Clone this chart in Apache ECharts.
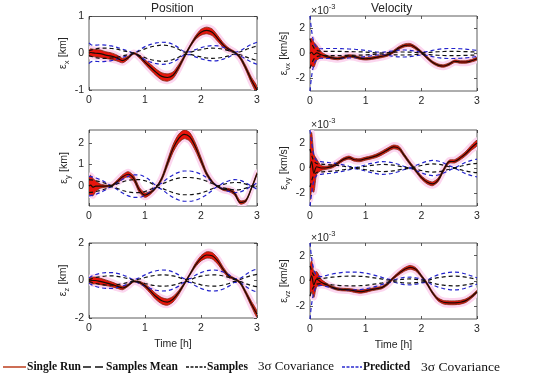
<!DOCTYPE html>
<html>
<head>
<meta charset="utf-8">
<script src="https://cdn.jsdelivr.net/npm/echarts@6/dist/echarts.min.js"></script>
<style>html,body{margin:0;padding:0;background:#fff}#c{width:550px;height:380px}</style>
</head>
<body>
<div id="c"></div>
<script>
// time samples [h]
const T = [0,0.03,0.07,0.12,0.2,0.3,0.4,0.5,0.6,0.7,0.8,0.9,1.0,1.1,1.2,1.3,1.4,1.5,1.6,1.7,1.8,1.9,2.0,2.1,2.2,2.3,2.4,2.5,2.6,2.7,2.8,2.9,3.0];
const xTicks = [0,1,2,3];

// ---- Position x [km]
const posXMean   = [0,0.02,0.01,0,-0.01,-0.05,-0.08,-0.13,-0.2,-0.12,0,-0.09,-0.24,-0.38,-0.52,-0.63,-0.66,-0.6,-0.38,-0.1,0.18,0.42,0.57,0.62,0.57,0.4,0.22,0.1,0.03,-0.12,-0.4,-0.73,-1.0];
const posXSpread = [0.08,0.1,0.1,0.1,0.1,0.09,0.09,0.08,0.06,0.04,0.02,0.04,0.06,0.08,0.09,0.1,0.1,0.09,0.07,0.04,0.03,0.05,0.08,0.09,0.09,0.08,0.06,0.04,0.02,0.04,0.06,0.08,0.1];
const posXSampCov = [0.06,0.08,0.1,0.12,0.14,0.14,0.13,0.11,0.07,0.04,0.01,0.06,0.12,0.17,0.2,0.22,0.21,0.17,0.11,0.03,0.03,0.07,0.1,0.13,0.14,0.13,0.11,0.07,0.02,0.04,0.1,0.15,0.2];
const posXPredCov = [0.28,0.24,0.22,0.22,0.23,0.22,0.2,0.16,0.11,0.06,0.01,0.09,0.18,0.24,0.28,0.3,0.29,0.24,0.15,0.05,0.04,0.1,0.15,0.19,0.21,0.2,0.16,0.1,0.03,0.07,0.16,0.24,0.3];

// ---- Position y [km]
const posYMean   = [0,0.05,-0.05,0,0,0,0.02,0.2,0.43,0.55,0.35,-0.18,-0.42,-0.3,-0.06,0.35,1.05,1.74,2.2,2.4,2.28,1.82,1.2,0.58,0.2,-0.03,-0.15,-0.18,-0.34,-0.75,-0.68,-0.1,0.58];
const posYSpread = [0.4,0.45,0.4,0.25,0.1,0.05,0.03,0.07,0.1,0.12,0.12,0.12,0.1,0.07,0.03,0.08,0.14,0.18,0.2,0.2,0.2,0.18,0.14,0.09,0.05,0.02,0.05,0.07,0.08,0.08,0.06,0.03,0.05];
const posYSampCov = [0.3,0.29,0.28,0.25,0.2,0.12,0.02,0.1,0.2,0.27,0.3,0.3,0.25,0.15,0.03,0.1,0.2,0.3,0.37,0.4,0.4,0.37,0.32,0.23,0.12,0.01,0.08,0.14,0.17,0.16,0.09,0.01,0.08];
const posYPredCov = [0.45,0.44,0.42,0.38,0.3,0.17,0.03,0.15,0.32,0.45,0.52,0.52,0.42,0.25,0.05,0.15,0.35,0.52,0.64,0.7,0.7,0.65,0.55,0.4,0.2,0.02,0.15,0.25,0.3,0.27,0.15,0.02,0.15];

// ---- Position z [km]
const posZMean   = [0,0.02,0,0,-0.05,-0.12,-0.2,-0.3,-0.4,-0.25,-0.05,-0.1,-0.28,-0.57,-0.87,-1.08,-1.15,-1.0,-0.65,-0.18,0.32,0.82,1.18,1.36,1.32,1.03,0.58,0.23,0.09,-0.12,-0.65,-1.25,-1.8];
const posZSpread = [0.1,0.15,0.18,0.18,0.17,0.15,0.13,0.11,0.09,0.06,0.03,0.06,0.1,0.13,0.16,0.17,0.17,0.15,0.11,0.06,0.05,0.1,0.14,0.17,0.17,0.16,0.12,0.08,0.04,0.06,0.1,0.14,0.17];
const posZSampCov = [0.05,0.08,0.12,0.16,0.2,0.24,0.25,0.22,0.17,0.1,0.02,0.08,0.16,0.23,0.28,0.3,0.29,0.25,0.17,0.06,0.05,0.15,0.23,0.28,0.3,0.29,0.24,0.16,0.05,0.06,0.17,0.27,0.33];
const posZPredCov = [0.15,0.2,0.26,0.32,0.38,0.42,0.42,0.38,0.3,0.18,0.04,0.15,0.3,0.43,0.52,0.56,0.54,0.45,0.3,0.1,0.1,0.28,0.42,0.52,0.56,0.54,0.45,0.3,0.1,0.12,0.32,0.5,0.62];

// ---- Velocity x [1e-3 km/s]
const velXMean   = [0,0.1,-0.1,0.05,-0.1,-0.25,-0.35,-0.4,-0.32,-0.2,-0.25,-0.37,-0.42,-0.38,-0.3,-0.22,-0.1,0.15,0.45,0.65,0.68,0.45,0.1,-0.32,-0.7,-0.93,-1.0,-0.85,-0.62,-0.68,-0.68,-0.58,-0.42];
const velXSpread = [1.1,1.1,1.0,0.6,0.25,0.12,0.1,0.1,0.1,0.1,0.1,0.1,0.1,0.1,0.1,0.1,0.1,0.1,0.12,0.12,0.12,0.12,0.1,0.1,0.1,0.1,0.1,0.1,0.1,0.1,0.1,0.1,0.1];
const velXSampCov = [1.2,0.8,0.45,0.25,0.18,0.17,0.17,0.17,0.16,0.15,0.14,0.13,0.11,0.08,0.05,0.04,0.07,0.1,0.12,0.12,0.11,0.08,0.05,0.07,0.11,0.14,0.16,0.17,0.17,0.16,0.15,0.13,0.11];
const velXPredCov = [3.0,1.8,0.9,0.5,0.38,0.4,0.4,0.4,0.38,0.36,0.34,0.3,0.25,0.18,0.12,0.1,0.15,0.22,0.27,0.28,0.25,0.18,0.12,0.15,0.25,0.33,0.38,0.4,0.4,0.38,0.35,0.3,0.25];

// ---- Velocity y [1e-3 km/s]
const velYMean   = [0,0.5,-0.4,0.1,0,0.02,0.13,0.38,0.68,0.82,0.65,0.62,0.74,0.84,0.98,1.2,1.45,1.66,1.55,0.95,0.35,-0.2,-0.74,-1.1,-1.25,-0.95,-0.15,0.5,0.53,0.8,1.15,1.6,1.97];
const velYSpread = [2.5,2.3,1.5,0.6,0.2,0.12,0.12,0.12,0.12,0.12,0.12,0.12,0.12,0.12,0.14,0.15,0.15,0.15,0.15,0.13,0.12,0.12,0.13,0.15,0.15,0.14,0.12,0.12,0.13,0.15,0.17,0.2,0.22];
const velYSampCov = [1.5,1.0,0.55,0.35,0.3,0.27,0.24,0.2,0.14,0.08,0.03,0.07,0.14,0.2,0.25,0.28,0.27,0.22,0.15,0.07,0.02,0.1,0.2,0.28,0.32,0.3,0.22,0.1,0.03,0.13,0.24,0.32,0.37];
const velYPredCov = [3.0,2.0,1.0,0.6,0.5,0.45,0.4,0.33,0.24,0.14,0.05,0.12,0.25,0.36,0.45,0.5,0.48,0.4,0.28,0.12,0.04,0.2,0.38,0.52,0.6,0.55,0.4,0.18,0.05,0.25,0.45,0.6,0.7];

// ---- Velocity z [1e-3 km/s]
const velZMean   = [0,0.4,-0.3,0.15,-0.1,-0.3,-0.5,-0.64,-0.68,-0.7,-0.78,-0.84,-0.78,-0.68,-0.6,-0.5,-0.2,0.25,0.62,0.92,1.08,0.92,0.4,-0.2,-0.92,-1.45,-1.68,-1.72,-1.72,-1.68,-1.55,-1.25,-0.85];
const velZSpread = [1.2,1.2,1.0,0.6,0.25,0.12,0.1,0.1,0.1,0.1,0.12,0.12,0.12,0.1,0.1,0.1,0.1,0.1,0.12,0.14,0.15,0.14,0.1,0.1,0.1,0.12,0.14,0.15,0.15,0.15,0.14,0.12,0.1];
const velZSampCov = [1.2,0.8,0.45,0.25,0.2,0.25,0.3,0.34,0.37,0.38,0.38,0.37,0.34,0.28,0.22,0.15,0.08,0.05,0.1,0.15,0.16,0.13,0.08,0.05,0.16,0.26,0.33,0.37,0.38,0.36,0.3,0.22,0.14];
const velZPredCov = [3.0,1.8,0.9,0.45,0.35,0.45,0.55,0.62,0.68,0.7,0.7,0.68,0.62,0.52,0.4,0.27,0.15,0.1,0.2,0.28,0.3,0.25,0.15,0.1,0.3,0.48,0.6,0.68,0.7,0.66,0.55,0.4,0.25];

// tick labels
const posXTicks = [-1,0,1];
const posYTicks = [0,1,2];
const posZTicks = [-2,0,2];
const velTicks  = [-2,0,2];

const panels = [
  {mean:posXMean, spread:posXSpread, samp:posXSampCov, pred:posXPredCov, ymin:-1, ymax:1, ticks:posXTicks, sub:'x', unit:'[km]', left:89, top:16.5, w:168, h:73.5, bottom:false, vel:false},
  {mean:velXMean, spread:velXSpread, samp:velXSampCov, pred:velXPredCov, ymin:-3, ymax:3, ticks:velTicks, sub:'vx', unit:'[km/s]', left:310, top:16, w:167, h:75, bottom:false, vel:true},
  {mean:posYMean, spread:posYSpread, samp:posYSampCov, pred:posYPredCov, ymin:-0.92, ymax:2.6, ticks:posYTicks, sub:'y', unit:'[km]', left:89, top:130, w:168, h:76, bottom:false, vel:false},
  {mean:velYMean, spread:velYSpread, samp:velYSampCov, pred:velYPredCov, ymin:-3, ymax:3, ticks:velTicks, sub:'vy', unit:'[km/s]', left:310, top:130, w:167, h:76, bottom:false, vel:true},
  {mean:posZMean, spread:posZSpread, samp:posZSampCov, pred:posZPredCov, ymin:-2, ymax:2, ticks:posZTicks, sub:'z', unit:'[km]', left:89, top:243, w:168, h:75, bottom:true, vel:false},
  {mean:velZMean, spread:velZSpread, samp:velZSampCov, pred:velZPredCov, ymin:-3, ymax:3, ticks:velTicks, sub:'vz', unit:'[km/s]', left:310, top:243, w:167, h:76, bottom:true, vel:true}
];

const SANS = 'Liberation Sans, Arial, sans-serif';
const SERIF = 'Liberation Serif, Times New Roman, serif';
const AX = '#333333';

const grid = [], xAxis = [], yAxis = [], series = [];
panels.forEach((p, i) => {
  grid.push({left:p.left, top:p.top, width:p.w, height:p.h, show:true, borderColor:AX, borderWidth:0.8, containLabel:false});
  const tickCommon = {inside:true, length:3, lineStyle:{color:AX, width:0.8}};
  const noLine = {show:false, onZero:false};
  xAxis.push({type:'value', gridIndex:i, min:0, max:3, interval:1, position:'bottom',
    axisLine:noLine, axisTick:tickCommon, splitLine:{show:false},
    axisLabel:{fontSize:10.5, color:'#262626', margin:5, fontFamily:SANS},
    name: p.bottom ? 'Time [h]' : '', nameLocation:'middle', nameGap:21,
    nameTextStyle:{fontSize:10.5, color:'#262626', fontFamily:SANS}});
  xAxis.push({type:'value', gridIndex:i, min:0, max:3, interval:1, position:'top',
    axisLine:noLine, axisTick:tickCommon, splitLine:{show:false}, axisLabel:{show:false}});
  yAxis.push({type:'value', gridIndex:i, min:p.ymin, max:p.ymax, position:'left',
    axisLine:noLine, axisTick:Object.assign({customValues:p.ticks}, tickCommon), splitLine:{show:false},
    axisLabel:{customValues:p.ticks, fontSize:10.5, color:'#262626', margin:5, fontFamily:SANS},
    name:'{e|ε}{s|' + p.sub + '} {e|' + p.unit + '}', nameLocation:'middle', nameRotate:90,
    nameGap: 17,
    nameTextStyle:{fontFamily:SANS, color:'#262626', rich:{
      e:{fontSize:10.5, lineHeight:16, verticalAlign:'middle', fontFamily:SANS, color:'#262626'},
      s:{fontSize:7.5, lineHeight:7, verticalAlign:'bottom', fontFamily:SANS, color:'#262626'}}}});
  yAxis.push({type:'value', gridIndex:i, min:p.ymin, max:p.ymax, position:'right',
    axisLine:noLine, axisTick:Object.assign({customValues:p.ticks}, tickCommon), splitLine:{show:false},
    axisLabel:{show:false, customValues:p.ticks}});

  const xi = 2*i, yi = 2*i;
  // sample spread band (pink halo + red band)
  const bandSeries = (fill, stroke, lw) => ({
    type:'custom', xAxisIndex:xi, yAxisIndex:yi, clip:true, silent:true, z:1,
    data:[[0,0]],
    renderItem:(params, api) => {
      const up = T.map((t,k) => api.coord([t, p.mean[k] + p.spread[k]]));
      const lo = T.map((t,k) => api.coord([t, p.mean[k] - p.spread[k]])).reverse();
      return {type:'polygon', shape:{points:up.concat(lo), smooth:0.25},
        style:{fill:fill, stroke:stroke, lineWidth:lw, lineJoin:'round'}};
    }
  });
  series.push(bandSeries('#fcd6ef', '#fcd6ef', 6));
  series.push(bandSeries('#e8140c', '#7a2a12', 0.8));

  const line = (vals, sign, color, dash, width, z) => ({
    type:'line', xAxisIndex:xi, yAxisIndex:yi, symbol:'none', smooth:0.35, silent:true, z:z,
    data:T.map((t,k) => [t, sign*vals[k]]),
    lineStyle:{color:color, width:width, type:dash}
  });
  series.push(line(p.pred, 1, '#2222cc', [4,3], 1.2, 3));
  series.push(line(p.pred, -1, '#2222cc', [4,3], 1.2, 3));
  series.push(line(p.samp, 1, '#111111', [4,3], 1.2, 3));
  series.push(line(p.samp, -1, '#111111', [4,3], 1.2, 3));
  series.push(line(p.mean, 1, '#1a0c05', 'solid', 1.2, 4));
});

// graphic: titles, exponents, legend
const graphic = [];
graphic.push({type:'text', left:173-22, top:3, style:{text:'Position', font:'12px '+SANS, fill:'#262626'}});
graphic.push({type:'text', left:393-22, top:3, style:{text:'Velocity', font:'12px '+SANS, fill:'#262626'}});
[3,117,230].forEach(y => {
  graphic.push({type:'text', left:311, top:y, style:{text:'{m|×10}{p|-3}', rich:{
    m:{fontSize:10.5, lineHeight:14, verticalAlign:'bottom', fontFamily:SANS, fill:'#262626'},
    p:{fontSize:7.5, lineHeight:14, verticalAlign:'top', fontFamily:SANS, fill:'#262626'}}}});
});
const LY = 367;
const seg = (x1, x2, color, dash, w) => ({type:'line', shape:{x1:x1, y1:LY, x2:x2, y2:LY}, style:{stroke:color, lineWidth:w, lineDash:dash}});
const txt = (x, s, bold, size) => ({type:'text', x:x, y:LY, style:{text:s, font:(bold?'bold ':'')+size+'px '+SERIF, fill:'#111', textVerticalAlign:'middle'}});
graphic.push(seg(3, 26, '#c04a2a', null, 1.6));
graphic.push(txt(27, 'Single Run', true, 11.5));
graphic.push(seg(83, 105, '#111', [8,4], 1.6));
graphic.push(txt(106, 'Samples Mean', true, 11.5));
graphic.push(seg(186, 206, '#111', [3,1.5], 1.4));
graphic.push(txt(207, 'Samples', true, 11.5));
graphic.push(txt(258, '3σ Covariance', false, 13));
graphic.push(seg(342, 362, '#2b2bd0', [3,1.5], 1.4));
graphic.push(txt(363, 'Predicted', true, 11.5));
graphic.push(txt(421, '3σ Covariance', false, 13.5));

const chart = echarts.init(document.getElementById('c'), null, {renderer:'canvas'});
chart.setOption({animation:false, backgroundColor:'#ffffff', grid, xAxis, yAxis, series, graphic});
</script>
</body>
</html>
